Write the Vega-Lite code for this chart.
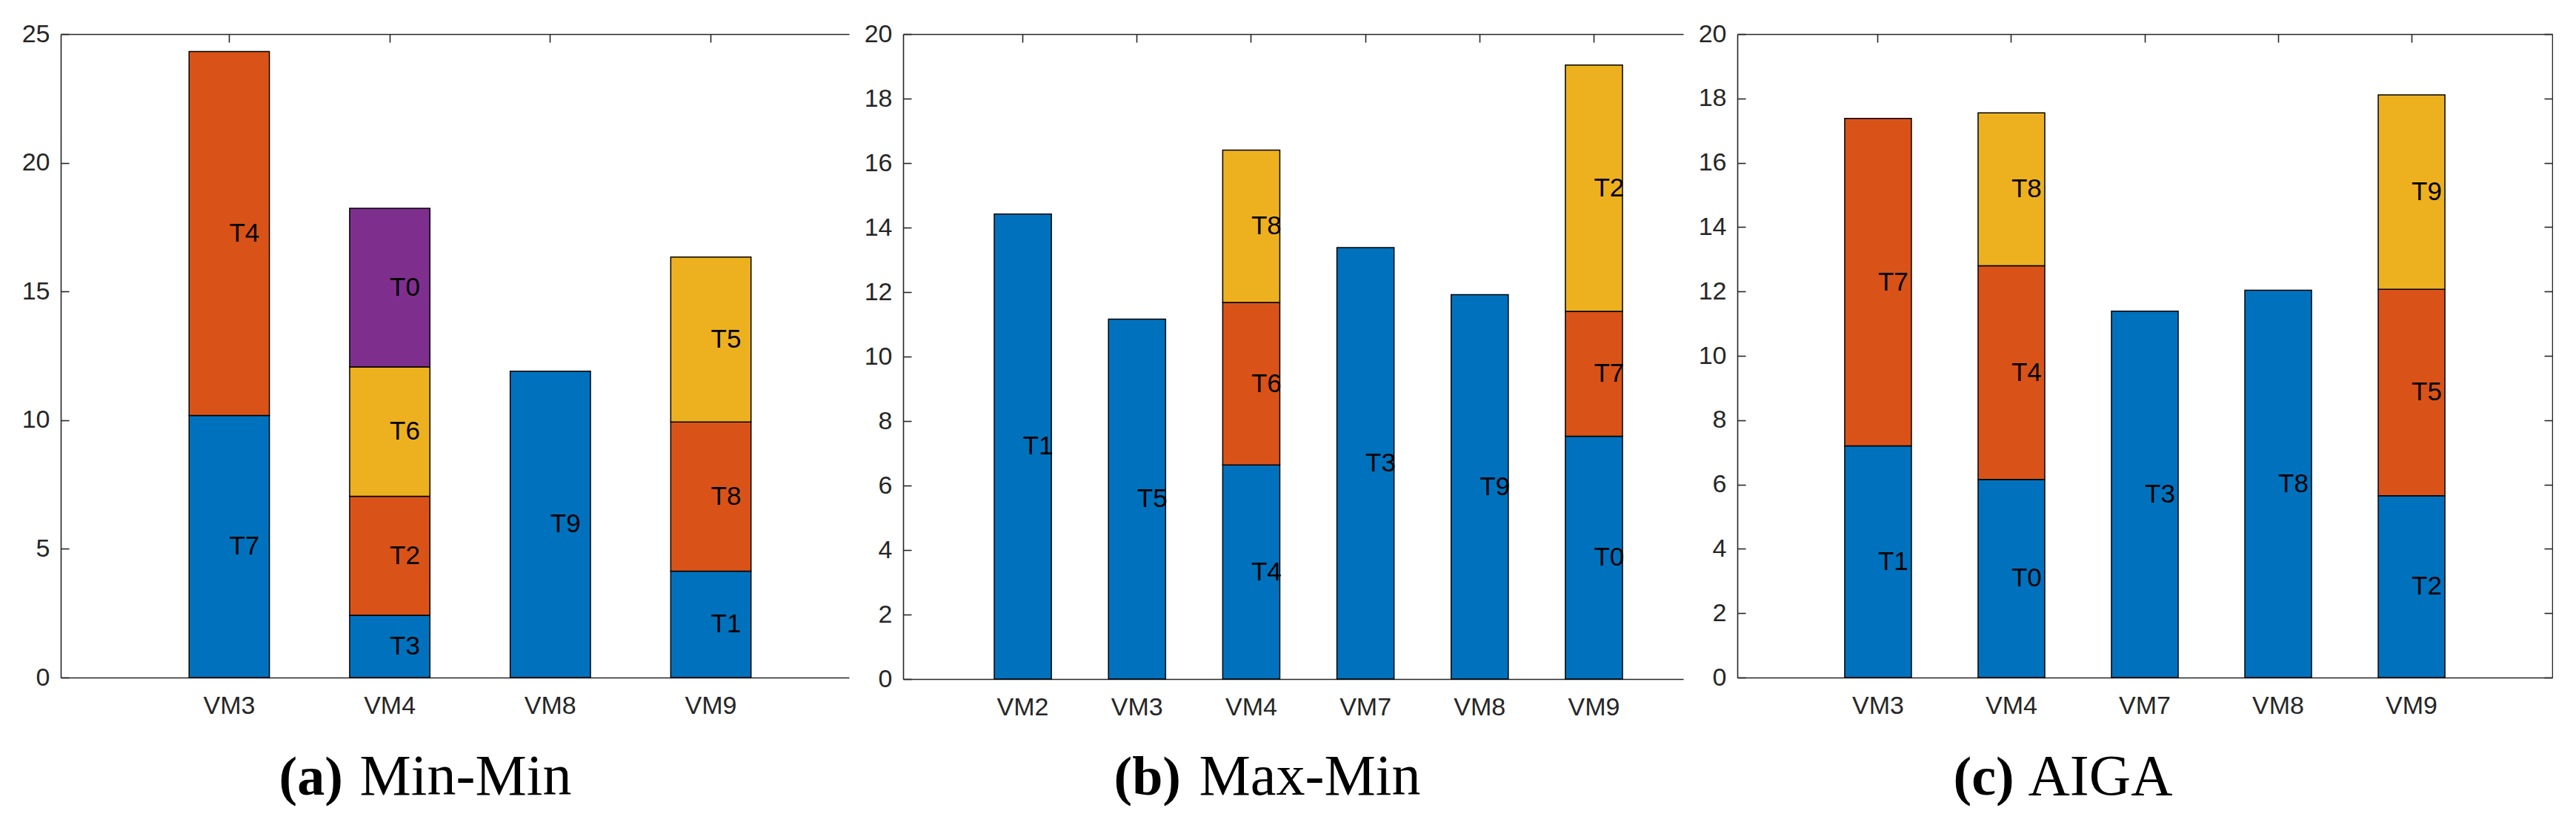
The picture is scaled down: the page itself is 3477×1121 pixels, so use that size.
{
  "$schema": "https://vega.github.io/schema/vega-lite/v6.json",
  "background": "white",
  "padding": {"left": 29, "top": 29, "right": 0, "bottom": 0},
  "spacing": 20,
  "datasets": {
    "minmin": [
      {"vm": "VM3", "task": "T7", "level": 1, "y0": 0, "y1": 10.18},
      {"vm": "VM3", "task": "T4", "level": 2, "y0": 10.18, "y1": 24.32},
      {"vm": "VM4", "task": "T3", "level": 1, "y0": 0, "y1": 2.42},
      {"vm": "VM4", "task": "T2", "level": 2, "y0": 2.42, "y1": 7.04},
      {"vm": "VM4", "task": "T6", "level": 3, "y0": 7.04, "y1": 12.07},
      {"vm": "VM4", "task": "T0", "level": 4, "y0": 12.07, "y1": 18.23},
      {"vm": "VM8", "task": "T9", "level": 1, "y0": 0, "y1": 11.9},
      {"vm": "VM9", "task": "T1", "level": 1, "y0": 0, "y1": 4.13},
      {"vm": "VM9", "task": "T8", "level": 2, "y0": 4.13, "y1": 9.93},
      {"vm": "VM9", "task": "T5", "level": 3, "y0": 9.93, "y1": 16.34}
    ],
    "maxmin": [
      {"vm": "VM2", "task": "T1", "level": 1, "y0": 0, "y1": 14.42},
      {"vm": "VM3", "task": "T5", "level": 1, "y0": 0, "y1": 11.16},
      {"vm": "VM4", "task": "T4", "level": 1, "y0": 0, "y1": 6.64},
      {"vm": "VM4", "task": "T6", "level": 2, "y0": 6.64, "y1": 11.68},
      {"vm": "VM4", "task": "T8", "level": 3, "y0": 11.68, "y1": 16.4},
      {"vm": "VM7", "task": "T3", "level": 1, "y0": 0, "y1": 13.38},
      {"vm": "VM8", "task": "T9", "level": 1, "y0": 0, "y1": 11.92},
      {"vm": "VM9", "task": "T0", "level": 1, "y0": 0, "y1": 7.53},
      {"vm": "VM9", "task": "T7", "level": 2, "y0": 7.53, "y1": 11.4},
      {"vm": "VM9", "task": "T2", "level": 3, "y0": 11.4, "y1": 19.04}
    ],
    "aiga": [
      {"vm": "VM3", "task": "T1", "level": 1, "y0": 0, "y1": 7.2},
      {"vm": "VM3", "task": "T7", "level": 2, "y0": 7.2, "y1": 17.38},
      {"vm": "VM4", "task": "T0", "level": 1, "y0": 0, "y1": 6.16},
      {"vm": "VM4", "task": "T4", "level": 2, "y0": 6.16, "y1": 12.8},
      {"vm": "VM4", "task": "T8", "level": 3, "y0": 12.8, "y1": 17.55},
      {"vm": "VM7", "task": "T3", "level": 1, "y0": 0, "y1": 11.39},
      {"vm": "VM8", "task": "T8", "level": 1, "y0": 0, "y1": 12.04},
      {"vm": "VM9", "task": "T2", "level": 1, "y0": 0, "y1": 5.65},
      {"vm": "VM9", "task": "T5", "level": 2, "y0": 5.65, "y1": 12.07},
      {"vm": "VM9", "task": "T9", "level": 3, "y0": 12.07, "y1": 18.11}
    ]
  },
  "hconcat": [
    {
      "width": 1064,
      "height": 868,
      "data": {"name": "minmin"},
      "layer": [
        {
          "mark": {"type": "bar", "stroke": "black", "strokeWidth": 1.5},
          "encoding": {
            "x": {
              "field": "vm", "type": "nominal",
              "scale": {"domain": ["VM3", "VM4", "VM8", "VM9"], "paddingInner": 0.5, "paddingOuter": 0.705, "align": 0.567},
              "axis": {"orient": "bottom", "title": "Min-Min", "titleX": 403, "titleY": 157}
            },
            "y": {
              "field": "y0", "type": "quantitative",
              "scale": {"domain": [0, 25], "nice": false},
              "axis": {"values": [0, 5, 10, 15, 20, 25], "title": null}
            },
            "y2": {"field": "y1"},
            "color": {
              "field": "level", "type": "nominal",
              "scale": {"domain": [1, 2, 3, 4], "range": ["#0072BD", "#D95319", "#EDB120", "#7E2F8E"]},
              "legend": null
            }
          }
        },
        {
          "transform": [
            {"fold": ["y0", "y1"], "as": ["edge", "v"]},
            {"aggregate": [{"op": "mean", "field": "v", "as": "mid"}], "groupby": ["vm", "task"]}
          ],
          "mark": {"type": "text", "align": "left", "baseline": "middle", "fontSize": 35, "font": "Liberation Sans", "color": "black"},
          "encoding": {
            "x": {
              "field": "vm", "type": "nominal",
              "scale": {"domain": ["VM3", "VM4", "VM8", "VM9"], "paddingInner": 0.5, "paddingOuter": 0.705, "align": 0.567},
              "axis": {"orient": "top", "labels": false, "title": "(a)", "titleX": 294, "titleY": 1025, "titleFontWeight": "bold", "titleFontSize": 74}
            },
            "y": {"field": "mid", "type": "quantitative", "scale": {"domain": [0, 25], "nice": false}, "axis": null},
            "text": {"field": "task"}
          }
        }
      ],
      "resolve": {"axis": {"x": "independent", "y": "independent"}}
    },
    {
      "width": 1053,
      "height": 870,
      "data": {"name": "maxmin"},
      "layer": [
        {
          "mark": {"type": "bar", "stroke": "black", "strokeWidth": 1.5},
          "encoding": {
            "x": {
              "field": "vm", "type": "nominal",
              "scale": {"domain": ["VM2", "VM3", "VM4", "VM7", "VM8", "VM9"], "paddingInner": 0.5, "paddingOuter": 0.665, "align": 0.6},
              "axis": {"orient": "bottom", "title": "Max-Min", "titleX": 399, "titleY": 155}
            },
            "y": {
              "field": "y0", "type": "quantitative",
              "scale": {"domain": [0, 20], "nice": false},
              "axis": {"values": [0, 2, 4, 6, 8, 10, 12, 14, 16, 18, 20], "title": null}
            },
            "y2": {"field": "y1"},
            "color": {
              "field": "level", "type": "nominal",
              "scale": {"domain": [1, 2, 3, 4], "range": ["#0072BD", "#D95319", "#EDB120", "#7E2F8E"]},
              "legend": null
            }
          }
        },
        {
          "transform": [
            {"fold": ["y0", "y1"], "as": ["edge", "v"]},
            {"aggregate": [{"op": "mean", "field": "v", "as": "mid"}], "groupby": ["vm", "task"]}
          ],
          "mark": {"type": "text", "align": "left", "baseline": "middle", "fontSize": 35, "font": "Liberation Sans", "color": "black"},
          "encoding": {
            "x": {
              "field": "vm", "type": "nominal",
              "scale": {"domain": ["VM2", "VM3", "VM4", "VM7", "VM8", "VM9"], "paddingInner": 0.5, "paddingOuter": 0.665, "align": 0.6},
              "axis": {"orient": "top", "labels": false, "title": "(b)", "titleX": 284, "titleY": 1025, "titleFontWeight": "bold", "titleFontSize": 74}
            },
            "y": {"field": "mid", "type": "quantitative", "scale": {"domain": [0, 20], "nice": false}, "axis": null},
            "text": {"field": "task"}
          }
        }
      ],
      "resolve": {"axis": {"x": "independent", "y": "independent"}}
    },
    {
      "width": 1100,
      "height": 868,
      "data": {"name": "aiga"},
      "layer": [
        {
          "mark": {"type": "bar", "stroke": "black", "strokeWidth": 1.5},
          "encoding": {
            "x": {
              "field": "vm", "type": "nominal",
              "scale": {"domain": ["VM3", "VM4", "VM7", "VM8", "VM9"], "paddingInner": 0.5, "paddingOuter": 0.805, "align": 0.5},
              "axis": {"orient": "bottom", "title": "AIGA", "titleX": 392, "titleY": 157}
            },
            "y": {
              "field": "y0", "type": "quantitative",
              "scale": {"domain": [0, 20], "nice": false},
              "axis": {"values": [0, 2, 4, 6, 8, 10, 12, 14, 16, 18, 20], "title": null}
            },
            "y2": {"field": "y1"},
            "color": {
              "field": "level", "type": "nominal",
              "scale": {"domain": [1, 2, 3, 4], "range": ["#0072BD", "#D95319", "#EDB120", "#7E2F8E"]},
              "legend": null
            }
          }
        },
        {
          "transform": [
            {"fold": ["y0", "y1"], "as": ["edge", "v"]},
            {"aggregate": [{"op": "mean", "field": "v", "as": "mid"}], "groupby": ["vm", "task"]}
          ],
          "mark": {"type": "text", "align": "left", "baseline": "middle", "fontSize": 35, "font": "Liberation Sans", "color": "black"},
          "encoding": {
            "x": {
              "field": "vm", "type": "nominal",
              "scale": {"domain": ["VM3", "VM4", "VM7", "VM8", "VM9"], "paddingInner": 0.5, "paddingOuter": 0.805, "align": 0.5},
              "axis": {"orient": "top", "labels": false, "title": "(c)", "titleX": 291, "titleY": 1025, "titleFontWeight": "bold", "titleFontSize": 74}
            },
            "y": {
              "field": "mid", "type": "quantitative",
              "scale": {"domain": [0, 20], "nice": false},
              "axis": {"orient": "right", "labels": false, "title": null, "values": [0, 2, 4, 6, 8, 10, 12, 14, 16, 18, 20]}
            },
            "text": {"field": "task"}
          }
        }
      ],
      "resolve": {"axis": {"x": "independent", "y": "independent"}}
    }
  ],
  "config": {
    "view": {"stroke": null},
    "axis": {
      "grid": false,
      "domainColor": "#262626",
      "domainWidth": 1.6,
      "tickColor": "#262626",
      "tickWidth": 1.6,
      "tickSize": -11,
      "labelFont": "Liberation Sans",
      "labelFontSize": 34,
      "labelColor": "#262626",
      "labelAngle": 0,
      "titleFont": "Liberation Serif",
      "titleFontSize": 78,
      "titleFontWeight": "normal",
      "titleColor": "black",
      "titleAngle": 0,
      "titleAlign": "left",
      "titleBaseline": "alphabetic"
    },
    "axisLeft": {"labelPadding": 26},
    "axisBottom": {"labelPadding": 32}
  }
}
